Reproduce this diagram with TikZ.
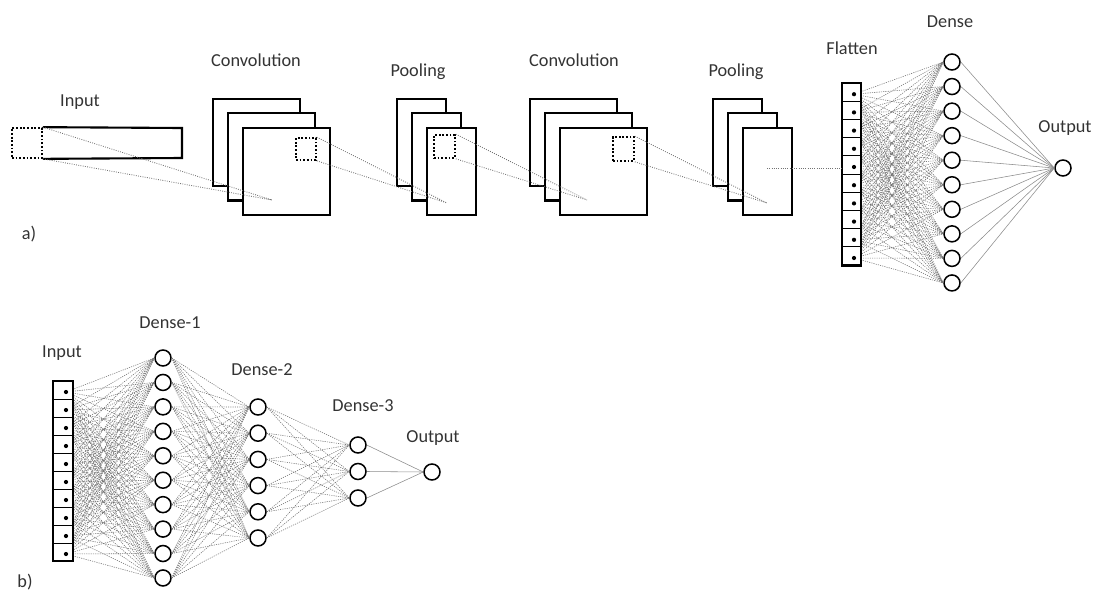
\documentclass[tikz,border=0pt]{standalone}
\usepackage{fontspec}
\setmainfont{Carlito}
\usepackage{tikz}
\usetikzlibrary{positioning}

\begin{document}
\begin{tikzpicture}[x=0.025cm, y=-0.025cm,
  lbl/.style={font=\fontsize{13}{15}\selectfont, text=black!80, inner sep=0pt},
  fmap/.style={draw, line width=1.5pt, fill=white, minimum width=2.175cm, minimum height=2.175cm, inner sep=0pt},
  pmap/.style={fmap, minimum width=1.225cm},
  window/.style={draw, line width=1.2pt, dash pattern=on 1.3pt off 1.3pt, inner sep=0pt},
  cell/.style={draw, line width=0.6pt, fill=white, minimum width=0.475cm, minimum height=0.455cm, inner sep=0pt},
  dot/.style={circle, fill=black, inner sep=0pt, minimum size=3pt},
  neuron/.style={circle, draw, line width=1.1pt, fill=white, minimum size=0.4cm, inner sep=0pt},
  link/.style={black!55, line width=0.4pt, dash pattern=on 0.8pt off 0.8pt},
  outlink/.style={black!45, line width=0.4pt},
  rf/.style={black!55, line width=0.6pt, densely dotted}]

  \useasboundingbox (0,0) rectangle (1100,593);

  % ---------------- a) convolutional network ----------------
  % Labels
  \node[lbl] (lInA)  at (80,102)   {Input};
  \node[lbl] (lCv1)  at (256,60)   {Convolution};
  \node[lbl] (lPl1)  at (418,72)   {Pooling};
  \node[lbl] (lCv2)  at (574,60)   {Convolution};
  \node[lbl] (lPl2)  at (736,72)   {Pooling};
  \node[lbl] (lFlat) at (852,48)   {Flatten};
  \node[lbl] (lDns)  at (950,22)   {Dense};
  \node[lbl] (lOutA) at (1065,128) {Output};
  \node[lbl] (lA)    at (29,234)   {a)};

  % Input strip with its window
  \node[window, minimum width=0.75cm, minimum height=0.75cm] (win0) at (27,143) {};
  \draw[line width=1.5pt] (win0.north east) -- (182,128) -- (182,158) -- (win0.south east);

  % Feature map stacks
  \foreach \cx/\nm/\sty in {286.5/conv1/fmap, 451.5/pool1/pmap, 603.5/conv2/fmap, 767.5/pool2/pmap}
    \foreach \d/\s in {30/a, 15/b, 0/c}
      \node[\sty] (\nm\s) at (\cx-\d, 171.5-\d*0.97) {};

  % Windows on the front maps
  \node[window, minimum width=0.5cm, minimum height=0.55cm]   (win1) at (306,149)   {};
  \node[window, minimum width=0.525cm, minimum height=0.575cm] (win2) at (444.5,146.5) {};
  \node[window, minimum width=0.525cm, minimum height=0.6cm]  (win3) at (623.5,149) {};

  % Receptive field lines
  \coordinate (t1) at (272,200);
  \coordinate (t2) at (447,203);
  \coordinate (t3) at (587,200);
  \coordinate (t4) at (767,203);
  \coordinate (t5) at (767,168);
  \draw[rf] (win0.north east) -- (t1) (win0.south east) -- (t1);
  \draw[rf] (win1.north east) -- (t2) (win1.south east) -- (t2);
  \draw[rf] (win2.north east) -- (t3) (win2.south east) -- (t3);
  \draw[rf] (win3.north east) -- (t4) (win3.south east) -- (t4);

  % Dense layer and output
  \foreach \j in {1,...,10}
    \node[neuron] (d\j) at (952, 37.45+24.55*\j) {};
  \node[neuron] (out) at (1063,168) {};

  % Flatten -> Dense -> Output
  \foreach \i in {1,...,10}
    \coordinate (fd\i) at (854, 76+18.2*\i);
  \foreach \i in {1,...,10}
    \foreach \j in {1,...,10}
      \draw[link] (fd\i) -- (d\j.west);
  \foreach \j in {1,...,10}
    \draw[outlink] (d\j.east) -- (out.west);

  % Flatten vector
  \foreach \i in {1,...,10} {
    \node[cell] (f\i) at (851.5, 74+18.2*\i) {};
    \node[dot] at (fd\i) {};
  }
  \draw[line width=1.5pt] (f1.north west) rectangle (f10.south east);
  \draw[rf] (t5) -- (t5 -| f1.west);

  % ---------------- b) fully connected network ----------------
  % Labels
  \node[lbl] (lInB)  at (62,353)  {Input};
  \node[lbl] (lD1)   at (170,323) {Dense-1};
  \node[lbl] (lD2)   at (262,370) {Dense-2};
  \node[lbl] (lD3)   at (363,406) {Dense-3};
  \node[lbl] (lOutB) at (433,438) {Output};
  \node[lbl] (lB)    at (25,582)  {b)};

  % Layers
  \foreach \j in {1,...,10}
    \node[neuron] (ha\j) at (163, 333.56+24.44*\j) {};
  \foreach \j in {1,...,6}
    \node[neuron] (hb\j) at (258, 380.8+26.2*\j) {};
  \foreach \j in {1,...,3}
    \node[neuron] (hc\j) at (358, 418.5+26.5*\j) {};
  \node[neuron] (outb) at (432,472) {};

  % Connections
  \foreach \i in {1,...,10}
    \coordinate (xd\i) at (66, 374+18*\i);
  \foreach \i in {1,...,10}
    \foreach \j in {1,...,10}
      \draw[link] (xd\i) -- (ha\j.west);
  \foreach \i in {1,...,10}
    \foreach \j in {1,...,6}
      \draw[link] (ha\i.east) -- (hb\j.west);
  \foreach \i in {1,...,6}
    \foreach \j in {1,...,3}
      \draw[link] (hb\i.east) -- (hc\j.west);
  \foreach \j in {1,...,3}
    \draw[outlink] (hc\j.east) -- (outb.west);

  % Input vector
  \foreach \i in {1,...,10} {
    \node[cell, minimum width=0.5cm, minimum height=0.45cm] (x\i) at (63, 372+18*\i) {};
    \node[dot] at (xd\i) {};
  }
  \draw[line width=1.5pt] (x1.north west) rectangle (x10.south east);

\end{tikzpicture}
\end{document}
